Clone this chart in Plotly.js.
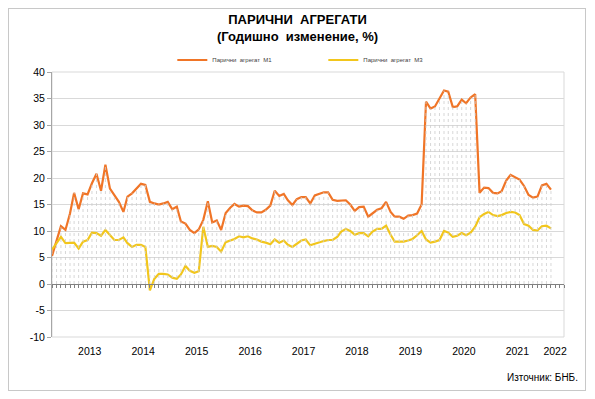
<!DOCTYPE html>
<html>
<head>
<meta charset="utf-8">
<script src="https://cdn.plot.ly/plotly-3.0.1.min.js"></script>
<style>
  html, body { margin: 0; padding: 0; background: #ffffff; }
  #wrap { position: relative; width: 595px; height: 399px; }
  #frame { position: absolute; left: 8px; top: 8px; width: 578px; height: 383px; border: 1px solid #c8c8c8; box-sizing: border-box; }
  #chart { position: absolute; left: 0; top: 0; width: 595px; height: 399px; }
</style>
</head>
<body>
<div id="wrap">
  <div id="frame"></div>
  <div id="chart"></div>
</div>
<script>
// Monthly series, October 2012 – February 2022 (annual change, %)
const startYear = 2012;
const startMonth = 10; // October

const m1Values = [
  5.3, 8.0, 10.9, 10.2, 13.3, 17.2, 14.1, 17.1, 16.9, 19.0,
  20.8, 17.6, 22.5, 18.0, 16.8, 15.5, 13.6, 16.5, 17.1, 18.0,
  18.9, 18.7, 15.5, 15.2, 15.0, 15.2, 15.5, 14.1, 14.6, 11.8,
  11.4, 10.2, 9.6, 10.3, 12.1, 15.6, 11.6, 12.0, 10.2, 13.4,
  14.4, 15.1, 14.6, 14.8, 14.7, 13.9, 13.5, 13.5, 14.0, 14.8,
  17.6, 16.6, 17.0, 15.8, 14.9, 16.0, 16.4, 16.4, 15.2, 16.7,
  17.0, 17.3, 17.3, 15.9, 15.7, 15.8, 15.8, 15.0, 13.8, 14.5,
  14.6, 12.7, 13.4, 14.0, 14.3, 15.5, 13.6, 12.7, 12.7, 12.3,
  12.9, 13.0, 13.3, 15.0, 34.4, 33.1, 33.5, 35.0, 36.5, 36.3,
  33.4, 33.5, 34.8, 34.1, 35.2, 35.8, 17.2, 18.2, 18.1, 17.2,
  17.1, 17.5, 19.5, 20.6, 20.1, 19.7, 18.5, 16.8, 16.3, 16.5,
  18.6, 18.9, 17.8
];

const m3Values = [
  6.5, 7.8, 8.9, 7.7, 7.7, 7.8, 6.7, 8.0, 8.3, 9.7,
  9.6, 9.1, 10.2, 9.2, 8.3, 8.3, 8.8, 7.7, 7.0, 7.4,
  7.4, 7.0, -1.2, 1.0, 1.9, 1.9, 1.8, 1.2, 1.0, 1.8,
  3.4, 2.5, 2.1, 2.4, 10.8, 7.0, 7.2, 7.0, 6.1, 7.9,
  8.2, 8.5, 9.0, 8.8, 9.0, 8.6, 8.4, 8.0, 7.8, 7.5,
  8.4, 7.8, 8.2, 7.4, 7.0, 7.6, 8.2, 8.4, 7.3, 7.6,
  7.9, 8.1, 8.3, 8.3, 8.9, 9.9, 10.4, 10.0, 9.3, 9.6,
  9.6, 9.0, 9.9, 10.4, 10.4, 11.0, 9.3, 8.0, 8.0, 8.0,
  8.2, 8.5, 9.2, 10.0, 8.4, 7.8, 8.0, 8.3, 10.0, 9.7,
  8.9, 9.1, 9.6, 9.2, 9.7, 10.8, 12.6, 13.2, 13.6, 13.0,
  12.8, 13.0, 13.4, 13.6, 13.5, 13.0, 11.3, 11.0, 10.2, 10.1,
  10.9, 11.0, 10.5
];

const seriesNames = ["Парични  агрегат  М1", "Парични  агрегат  М3"];
const yearLabels = ["2013", "2014", "2015", "2016", "2017", "2018", "2019", "2020", "2021", "2022"];
const yearLabelDates = ["2013-06-16", "2014-06-16", "2015-06-16", "2016-06-16", "2017-06-16",
                        "2018-06-16", "2019-06-16", "2020-06-16", "2021-06-16", "2022-03-01"];
const yTickValues = [-10, -5, 0, 5, 10, 15, 20, 25, 30, 35, 40];
const yTickLabels = ["-10", "-5", "0", "5", "10", "15", "20", "25", "30", "35", "40"];
const axisRange = ["2012-10-01", "2022-05-01"];

// month categories
const months = m1Values.map((_, i) => {
  const total = (startMonth - 1) + i;
  const y = startYear + Math.floor(total / 12);
  const m = (total % 12) + 1;
  return y + "-" + String(m).padStart(2, "0") + "-01";
});

// drop lines from the higher series down to zero
const dropX = [], dropY = [];
months.forEach((d, i) => {
  dropX.push(d, d, null);
  dropY.push(0, Math.max(m1Values[i], m3Values[i], 0), null);
});

const traces = [
  {
    x: dropX, y: dropY, type: "scatter", mode: "lines",
    xaxis: "x2",
    line: { color: "#cdcdcd", width: 0.8, dash: "dot" },
    hoverinfo: "skip", showlegend: false
  },
  {
    x: months, y: m1Values, type: "scatter", mode: "lines",
    name: seriesNames[0],
    line: { color: "#f07527", width: 2.2 }
  },
  {
    x: months, y: m3Values, type: "scatter", mode: "lines",
    name: seriesNames[1],
    line: { color: "#f2c61c", width: 2.2 }
  }
];

const layout = {
  width: 595, height: 399,
  margin: { l: 52, r: 31, t: 72, b: 62 },
  paper_bgcolor: "rgba(0,0,0,0)",
  plot_bgcolor: "#ffffff",
  font: { family: "Liberation Sans, Arial, sans-serif", color: "#000000" },
  title: {
    text: "<b>ПАРИЧНИ  АГРЕГАТИ<br>(Годишно  изменение, %)</b>",
    font: { size: 13, family: "Liberation Sans, Arial, sans-serif", color: "#000000" },
    x: 0.5, xref: "container", xanchor: "center",
    y: 1 - 24 / 399, yref: "container", yanchor: "top"
  },
  showlegend: true,
  legend: {
    orientation: "h",
    x: 0.235, xanchor: "left",
    y: 1.1, yanchor: "top",
    font: { size: 6, color: "#404040" },
    entrywidth: 106, entrywidthmode: "pixels",
    bgcolor: "rgba(0,0,0,0)",
    itemwidth: 30
  },
  xaxis: {
    type: "date",
    range: axisRange,
    tickvals: yearLabelDates,
    ticktext: yearLabels,
    ticks: "",
    showgrid: false,
    showline: false,
    zeroline: false,
    tickfont: { size: 10.5, color: "#000000" },
    ticklabelstandoff: 6
  },
  xaxis2: {
    type: "date",
    overlaying: "x",
    anchor: "free",
    position: 0.2,
    range: axisRange,
    dtick: "M1",
    tick0: "2012-10-01",
    ticks: "outside",
    ticklen: 3,
    tickcolor: "#808080",
    showticklabels: false,
    showgrid: false,
    showline: true,
    linecolor: "#808080",
    linewidth: 1,
    zeroline: false
  },
  yaxis: {
    range: [-10, 40],
    tickvals: yTickValues,
    ticktext: yTickLabels,
    showgrid: true,
    gridcolor: "#d9d9d9",
    gridwidth: 1,
    zeroline: false,
    showline: true,
    linecolor: "#a6a6a6",
    ticks: "outside",
    ticklen: 4,
    tickcolor: "#a6a6a6",
    tickfont: { size: 10.5, color: "#000000" }
  },
  shapes: [
    { type: "rect", xref: "paper", yref: "paper", x0: 0, x1: 1, y0: 0, y1: 1,
      line: { color: "#d9d9d9", width: 1 }, fillcolor: "rgba(0,0,0,0)", layer: "below" }
  ],
  annotations: [
    {
      text: "Източник: БНБ.",
      xref: "paper", yref: "paper",
      x: 1.031, xanchor: "right",
      y: -0.151, yanchor: "middle",
      showarrow: false,
      font: { family: "Liberation Sans Narrow, Arial Narrow, sans-serif", size: 10, color: "#000000" }
    }
  ]
};

Plotly.newPlot("chart", traces, layout, { displayModeBar: false, staticPlot: true });
</script>
</body>
</html>
